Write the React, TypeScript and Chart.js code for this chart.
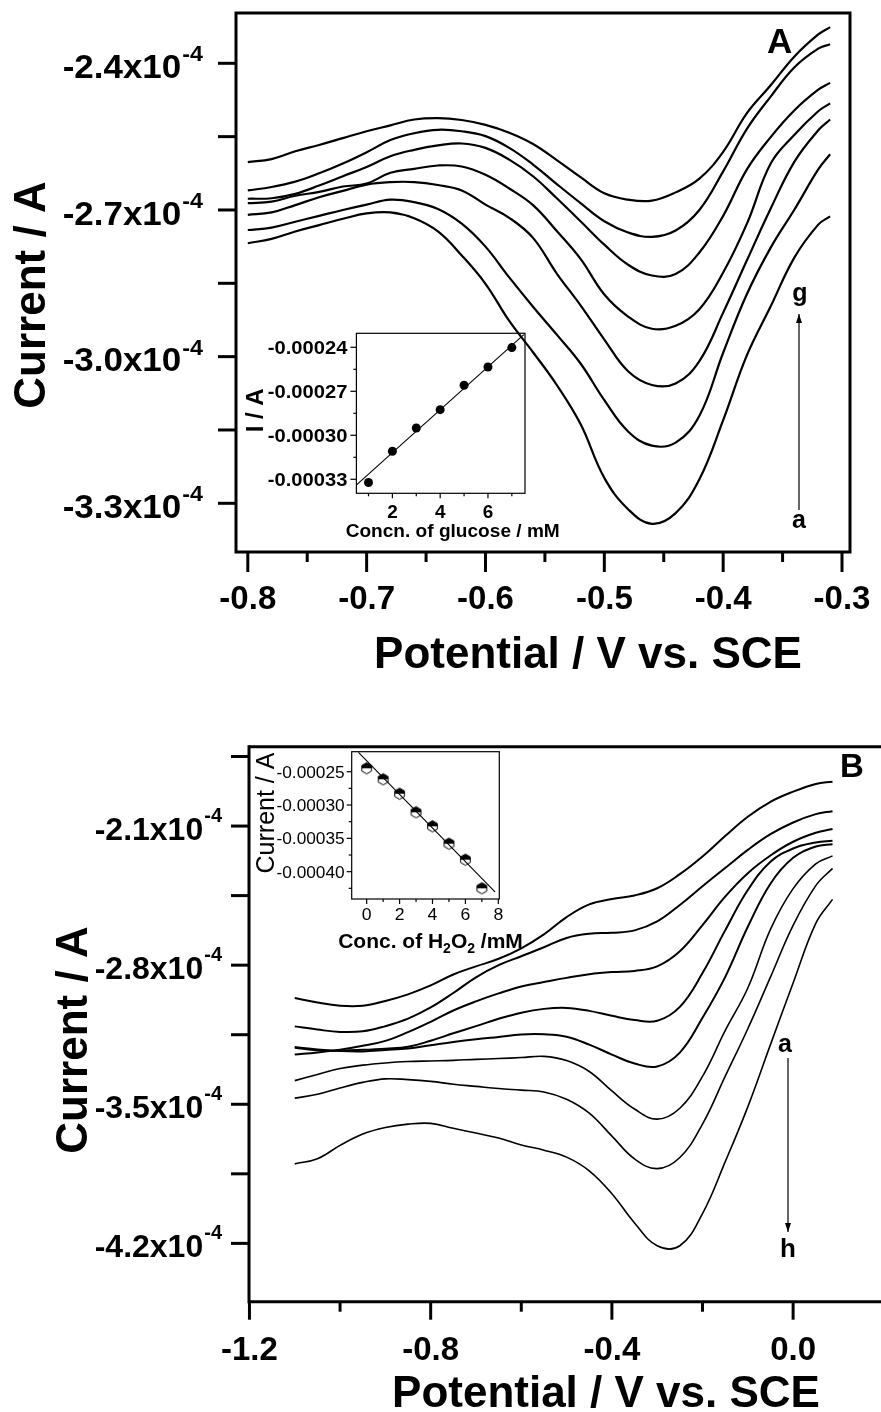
import React, { useEffect, useRef } from "react";
import { Chart, registerables } from "chart.js";

Chart.register(...registerables);

const FONT = '"Liberation Sans", Arial, Helvetica, sans-serif';

// ================= Panel A (glucose) — current in units of 1e-4 A =================
const potentialA = [-0.80, -0.78, -0.76, -0.74, -0.72, -0.70, -0.68, -0.66, -0.64, -0.62, -0.60, -0.58, -0.56,
  -0.54, -0.52, -0.50, -0.48, -0.46, -0.44, -0.42, -0.40, -0.38, -0.36, -0.34, -0.32, -0.31];
const curveA_a = [-2.768, -2.759, -2.744, -2.731, -2.718, -2.707, -2.705, -2.717, -2.744, -2.793, -2.851, -2.927, -2.991,
  -3.058, -3.138, -3.248, -3.312, -3.342, -3.320, -3.251, -3.130, -2.997, -2.897, -2.797, -2.730, -2.713];
const curveA_b = [-2.741, -2.736, -2.724, -2.712, -2.700, -2.689, -2.679, -2.684, -2.698, -2.728, -2.775, -2.838, -2.898,
  -2.955, -3.014, -3.089, -3.153, -3.182, -3.176, -3.121, -2.992, -2.872, -2.777, -2.699, -2.617, -2.586];
const curveA_c = [-2.710, -2.705, -2.690, -2.674, -2.661, -2.648, -2.643, -2.643, -2.649, -2.660, -2.689, -2.716, -2.757,
  -2.830, -2.895, -2.965, -3.030, -3.058, -3.055, -3.009, -2.910, -2.803, -2.697, -2.601, -2.537, -2.515];
const curveA_d = [-2.686, -2.683, -2.671, -2.663, -2.652, -2.646, -2.624, -2.616, -2.609, -2.611, -2.628, -2.656, -2.690,
  -2.743, -2.800, -2.873, -2.918, -2.943, -2.937, -2.903, -2.828, -2.728, -2.605, -2.546, -2.498, -2.482];
const curveA_e = [-2.677, -2.676, -2.667, -2.650, -2.631, -2.612, -2.590, -2.577, -2.568, -2.564, -2.573, -2.597, -2.631,
  -2.676, -2.723, -2.771, -2.812, -2.834, -2.831, -2.787, -2.712, -2.617, -2.551, -2.496, -2.454, -2.440];
const curveA_f = [-2.660, -2.653, -2.642, -2.625, -2.605, -2.582, -2.557, -2.543, -2.536, -2.539, -2.549, -2.573, -2.607,
  -2.647, -2.686, -2.723, -2.746, -2.755, -2.742, -2.700, -2.621, -2.534, -2.468, -2.408, -2.370, -2.361];
const curveA_g = [-2.602, -2.596, -2.580, -2.567, -2.553, -2.539, -2.527, -2.515, -2.512, -2.516, -2.526, -2.542, -2.565,
  -2.598, -2.633, -2.666, -2.679, -2.681, -2.664, -2.636, -2.581, -2.502, -2.445, -2.386, -2.341, -2.326];
const seriesA = [curveA_a, curveA_b, curveA_c, curveA_d, curveA_e, curveA_f, curveA_g];

const yMajorA = [-2.4, -2.7, -3.0, -3.3];
const yLabelA = ["-2.4x10", "-2.7x10", "-3.0x10", "-3.3x10"];
const yMinorA = [-2.55, -2.85, -3.15];
const xMajorA = [-0.8, -0.7, -0.6, -0.5, -0.4, -0.3];
const xLabelA = ["-0.8", "-0.7", "-0.6", "-0.5", "-0.4", "-0.3"];
const xMinorA = [-0.75, -0.65, -0.55, -0.45, -0.35];
const EXPONENT = "-4";

// Inset A
const glucoseConc = [1, 2, 3, 4, 5, 6, 7];
const glucoseCurrent = [-0.0003322, -0.0003109, -0.000295, -0.0002825, -0.0002659, -0.0002534, -0.0002402];
const glucoseFitX = [0.5, 7.5];
const glucoseFitY = [-0.0003338, -0.0002314];
const insetA_yMajor = [-0.00024, -0.00027, -0.0003, -0.00033];
const insetA_yLabel = ["-0.00024", "-0.00027", "-0.00030", "-0.00033"];
const insetA_yMinor = [-0.000255, -0.000285, -0.000315];
const insetA_xMajor = [2, 4, 6];
const insetA_xLabel = ["2", "4", "6"];
const insetA_xMinor = [1, 3, 5, 7];

// ================= Panel B (H2O2) — current in units of 1e-4 A =================
const potentialB = [-1.10, -1.05, -1.00, -0.95, -0.90, -0.85, -0.80, -0.75, -0.70, -0.65, -0.60, -0.55, -0.50,
  -0.45, -0.40, -0.35, -0.30, -0.25, -0.20, -0.15, -0.10, -0.05, 0.00, 0.05, 0.087];
const curveB_a = [-2.965, -2.988, -3.004, -3.004, -2.980, -2.947, -2.902, -2.847, -2.806, -2.768, -2.715, -2.645, -2.558,
  -2.494, -2.467, -2.449, -2.413, -2.342, -2.253, -2.150, -2.053, -1.978, -1.927, -1.888, -1.877];
const curveB_b = [-3.108, -3.124, -3.136, -3.133, -3.107, -3.069, -3.013, -2.940, -2.861, -2.800, -2.755, -2.710, -2.663,
  -2.642, -2.637, -2.625, -2.580, -2.497, -2.403, -2.311, -2.220, -2.141, -2.082, -2.040, -2.025];
const curveB_c = [-3.249, -3.239, -3.225, -3.206, -3.181, -3.137, -3.085, -3.028, -2.982, -2.942, -2.907, -2.885, -2.864,
  -2.846, -2.835, -2.829, -2.806, -2.730, -2.598, -2.455, -2.337, -2.248, -2.179, -2.134, -2.115];
const curveB_d = [-3.216, -3.228, -3.230, -3.226, -3.220, -3.211, -3.180, -3.143, -3.107, -3.070, -3.039, -3.020, -3.015,
  -3.030, -3.055, -3.076, -3.080, -3.010, -2.840, -2.625, -2.422, -2.280, -2.213, -2.183, -2.174];
const curveB_e = [-3.212, -3.224, -3.232, -3.234, -3.227, -3.219, -3.203, -3.187, -3.173, -3.161, -3.149, -3.148, -3.160,
  -3.200, -3.250, -3.295, -3.310, -3.240, -3.065, -2.860, -2.607, -2.390, -2.260, -2.203, -2.191];
const curveB_f = [-3.381, -3.350, -3.320, -3.303, -3.292, -3.285, -3.282, -3.279, -3.274, -3.270, -3.265, -3.259, -3.280,
  -3.335, -3.433, -3.524, -3.575, -3.520, -3.360, -3.130, -2.915, -2.620, -2.415, -2.290, -2.250];
const curveB_g = [-3.469, -3.450, -3.418, -3.390, -3.372, -3.376, -3.385, -3.399, -3.410, -3.421, -3.429, -3.438, -3.475,
  -3.545, -3.660, -3.775, -3.824, -3.768, -3.600, -3.360, -3.120, -2.860, -2.600, -2.400, -2.313];
const curveB_h = [-3.800, -3.774, -3.707, -3.650, -3.617, -3.600, -3.596, -3.621, -3.645, -3.670, -3.705, -3.731, -3.766,
  -3.835, -3.950, -4.097, -4.212, -4.212, -4.050, -3.790, -3.513, -3.200, -2.890, -2.590, -2.469];
const seriesB = [curveB_a, curveB_b, curveB_c, curveB_d, curveB_e, curveB_f, curveB_g, curveB_h];

const yMajorB = [-2.1, -2.8, -3.5, -4.2];
const yLabelB = ["-2.1x10", "-2.8x10", "-3.5x10", "-4.2x10"];
const yMinorB = [-1.75, -2.45, -3.15, -3.85];
const xMajorB = [-1.2, -0.8, -0.4, 0.0];
const xLabelB = ["-1.2", "-0.8", "-0.4", "0.0"];
const xMinorB = [-1.0, -0.6, -0.2];

// Inset B
const h2o2Conc = [0, 1, 2, 3, 4, 5, 6, 7];
const h2o2Current = [-0.0002449, -0.0002614, -0.000283, -0.0003109, -0.0003319, -0.000358, -0.000382, -0.0004249];
const h2o2FitX = [-0.5, 7.8];
const h2o2FitY = [-0.000221, -0.0004302];
const insetB_yMajor = [-0.00025, -0.0003, -0.00035, -0.0004];
const insetB_yLabel = ["-0.00025", "-0.00030", "-0.00035", "-0.00040"];
const insetB_yMinor = [-0.000275, -0.000325, -0.000375, -0.000425];
const insetB_xMajor = [0, 2, 4, 6, 8];
const insetB_xLabel = ["0", "2", "4", "6", "8"];
const insetB_xMinor = [1, 3, 5, 7];

// ================= drawing helpers =================
type TOpts = { bold?: boolean; align?: CanvasTextAlign; sx?: number; rotate?: boolean };
function text(ctx: CanvasRenderingContext2D, s: string, x: number, y: number, size: number, o: TOpts = {}) {
  ctx.save();
  ctx.font = `${o.bold ? "bold " : ""}${size}px ${FONT}`;
  ctx.textAlign = o.align || "left";
  ctx.textBaseline = "alphabetic";
  ctx.fillStyle = "#000";
  ctx.translate(x, y);
  if (o.rotate) ctx.rotate(-Math.PI / 2);
  ctx.scale(o.sx || 1, 1);
  ctx.fillText(s, 0, 0);
  ctx.restore();
}
function measure(ctx: CanvasRenderingContext2D, s: string, size: number, bold: boolean) {
  ctx.save();
  ctx.font = `${bold ? "bold " : ""}${size}px ${FONT}`;
  const w = ctx.measureText(s).width;
  ctx.restore();
  return w;
}
function seg(ctx: CanvasRenderingContext2D, x1: number, y1: number, x2: number, y2: number) {
  ctx.beginPath();
  ctx.moveTo(x1, y1);
  ctx.lineTo(x2, y2);
  ctx.stroke();
}
function supLabel(ctx: CanvasRenderingContext2D, base: string, exp: string, right: number, mid: number,
  size: number, supSize: number, sx: number) {
  const w1 = measure(ctx, base, size, true) * sx;
  const w2 = measure(ctx, exp, supSize, true) * sx;
  const x0 = right - w1 - w2 - 1;
  const cap = size * 0.716;
  const by = mid + cap / 2;
  text(ctx, base, x0, by, size, { bold: true, sx });
  text(ctx, exp, x0 + w1 + 1, by - cap - 9 + supSize * 0.716, supSize, { bold: true, sx });
}
function arrow(ctx: CanvasRenderingContext2D, x: number, y1: number, y2: number) {
  ctx.save();
  ctx.lineWidth = 1.2;
  ctx.strokeStyle = "#000";
  ctx.fillStyle = "#000";
  seg(ctx, x, y1, x, y2);
  const dir = y2 < y1 ? -1 : 1;
  ctx.beginPath();
  ctx.moveTo(x, y2);
  ctx.lineTo(x - 3, y2 - dir * 9);
  ctx.lineTo(x + 3, y2 - dir * 9);
  ctx.closePath();
  ctx.fill();
  ctx.restore();
}

function halfHexagon(): HTMLCanvasElement {
  const c = document.createElement("canvas");
  c.width = 13;
  c.height = 14;
  const g = c.getContext("2d")!;
  const cx = 6.5, cy = 7, r = 5.6;
  const path = () => {
    g.beginPath();
    for (let k = 0; k < 6; k++) {
      const a = -Math.PI / 2 + (k * Math.PI) / 3;
      const px = cx + r * Math.cos(a), py = cy + r * Math.sin(a);
      if (k === 0) g.moveTo(px, py); else g.lineTo(px, py);
    }
    g.closePath();
  };
  path();
  g.fillStyle = "#fff";
  g.fill();
  g.save();
  g.beginPath();
  g.rect(0, 0, 13, cy);
  g.clip();
  path();
  g.fillStyle = "#000";
  g.fill();
  g.restore();
  path();
  g.strokeStyle = "#000";
  g.lineWidth = 1;
  g.stroke();
  return c;
}

// ================= plugins =================
const decorA = {
  id: "decorA",
  afterDraw(chart: any) {
    const { ctx, chartArea: ca } = chart;
    const xs = chart.scales.x, ys = chart.scales.y;
    ctx.save();
    ctx.strokeStyle = "#000";
    ctx.lineWidth = 3;
    ctx.strokeRect(ca.left, ca.top, ca.right - ca.left, ca.bottom - ca.top);
    [...yMajorA, ...yMinorA].forEach((v) => {
      const p = ys.getPixelForValue(v);
      seg(ctx, ca.left - 18, p, ca.left, p);
    });
    xMajorA.forEach((v) => {
      const p = xs.getPixelForValue(v);
      seg(ctx, p, ca.bottom, p, ca.bottom + 20);
    });
    xMinorA.forEach((v) => {
      const p = xs.getPixelForValue(v);
      seg(ctx, p, ca.bottom, p, ca.bottom + 10);
    });
    yMajorA.forEach((v, i) => supLabel(ctx, yLabelA[i], EXPONENT, ca.left - 33, ys.getPixelForValue(v) + 3, 33, 22, 1.06));
    xMajorA.forEach((v, i) => text(ctx, xLabelA[i], xs.getPixelForValue(v), ca.bottom + 57, 33, { bold: true, align: "center" }));
    text(ctx, "Potential / V vs. SCE", 588, 668, 44, { bold: true, align: "center" });
    text(ctx, "Current / A", 45, 295, 44, { bold: true, align: "center", rotate: true });
    text(ctx, "A", 767, 53, 35, { bold: true });
    text(ctx, "g", 800, 301, 25, { bold: true, align: "center" });
    text(ctx, "a", 799, 528, 25, { bold: true, align: "center" });
    arrow(ctx, 799, 510, 314);
    ctx.restore();
  },
};

const decorB = {
  id: "decorB",
  afterDraw(chart: any) {
    const { ctx, chartArea: ca } = chart;
    const xs = chart.scales.x, ys = chart.scales.y;
    const oy = 700;
    ctx.save();
    ctx.strokeStyle = "#000";
    ctx.lineWidth = 3;
    seg(ctx, ca.left, ca.top, chart.width, ca.top);
    seg(ctx, ca.left, ca.bottom, chart.width, ca.bottom);
    seg(ctx, ca.left, ca.top - 1.5, ca.left, ca.bottom + 1.5);
    [...yMajorB, ...yMinorB].forEach((v) => {
      const p = ys.getPixelForValue(v);
      seg(ctx, ca.left - 18, p, ca.left, p);
    });
    xMajorB.forEach((v) => {
      const p = xs.getPixelForValue(v);
      seg(ctx, p, ca.bottom, p, ca.bottom + 18);
    });
    xMinorB.forEach((v) => {
      const p = xs.getPixelForValue(v);
      seg(ctx, p, ca.bottom, p, ca.bottom + 10);
    });
    yMajorB.forEach((v, i) => supLabel(ctx, yLabelB[i], EXPONENT, ca.left - 27, ys.getPixelForValue(v) + 2, 32, 20, 1.0));
    xMajorB.forEach((v, i) => text(ctx, xLabelB[i], xs.getPixelForValue(v), ca.bottom + 58, 33, { bold: true, align: "center" }));
    text(ctx, "Potential / V vs. SCE", 606, 1407 - oy, 44, { bold: true, align: "center" });
    text(ctx, "Current / A", 87, 1040 - oy, 44, { bold: true, align: "center", rotate: true });
    text(ctx, "B", 840, 777 - oy, 33, { bold: true });
    text(ctx, "a", 785, 1052 - oy, 25, { bold: true, align: "center" });
    text(ctx, "h", 788, 1257 - oy, 26, { bold: true, align: "center" });
    arrow(ctx, 788, 1058 - oy, 1232 - oy);
    ctx.restore();
  },
};

const decorInsetA = {
  id: "decorInsetA",
  afterDraw(chart: any) {
    const { ctx, chartArea: ca } = chart;
    const xs = chart.scales.x, ys = chart.scales.y;
    ctx.save();
    ctx.strokeStyle = "#000";
    ctx.lineWidth = 1.2;
    ctx.strokeRect(ca.left, ca.top, ca.right - ca.left, ca.bottom - ca.top);
    insetA_yMajor.forEach((v) => { const p = ys.getPixelForValue(v); seg(ctx, ca.left - 6, p, ca.left, p); });
    insetA_yMinor.forEach((v) => { const p = ys.getPixelForValue(v); seg(ctx, ca.left - 3, p, ca.left, p); });
    insetA_xMajor.forEach((v) => { const p = xs.getPixelForValue(v); seg(ctx, p, ca.bottom, p, ca.bottom + 5); });
    insetA_xMinor.forEach((v) => { const p = xs.getPixelForValue(v); seg(ctx, p, ca.bottom, p, ca.bottom + 3); });
    insetA_yMajor.forEach((v, i) =>
      text(ctx, insetA_yLabel[i], ca.left - 9, ys.getPixelForValue(v) + 6.5, 18, { bold: true, align: "right", sx: 1.12 }));
    insetA_xMajor.forEach((v, i) =>
      text(ctx, insetA_xLabel[i], xs.getPixelForValue(v), ca.bottom + 25, 18, { bold: true, align: "center", sx: 1.05 }));
    text(ctx, "I / A", ca.left - 93, (ca.top + ca.bottom) / 2 - 3, 24, { bold: true, align: "center", rotate: true });
    text(ctx, "Concn. of glucose / mM", (ca.left + ca.right) / 2 + 12, ca.bottom + 44, 18, { bold: true, align: "center", sx: 1.06 });
    ctx.restore();
  },
};

const decorInsetB = {
  id: "decorInsetB",
  afterDraw(chart: any) {
    const { ctx, chartArea: ca } = chart;
    const xs = chart.scales.x, ys = chart.scales.y;
    ctx.save();
    ctx.strokeStyle = "#000";
    ctx.lineWidth = 1.2;
    ctx.strokeRect(ca.left, ca.top, ca.right - ca.left, ca.bottom - ca.top);
    insetB_yMajor.forEach((v) => { const p = ys.getPixelForValue(v); seg(ctx, ca.left - 5, p, ca.left, p); });
    insetB_yMinor.forEach((v) => { const p = ys.getPixelForValue(v); seg(ctx, ca.left - 3, p, ca.left, p); });
    insetB_xMajor.forEach((v) => { const p = xs.getPixelForValue(v); seg(ctx, p, ca.bottom, p, ca.bottom + 5); });
    insetB_xMinor.forEach((v) => { const p = xs.getPixelForValue(v); seg(ctx, p, ca.bottom, p, ca.bottom + 3); });
    insetB_yMajor.forEach((v, i) =>
      text(ctx, insetB_yLabel[i], ca.left - 7, ys.getPixelForValue(v) + 6, 16, { align: "right", sx: 1.08 }));
    insetB_xMajor.forEach((v, i) =>
      text(ctx, insetB_xLabel[i], xs.getPixelForValue(v), ca.bottom + 21, 16, { align: "center", sx: 1.1 }));
    text(ctx, "Current / A", ca.left - 78, 73, 25, { align: "center", rotate: true });
    // "Conc. of H2O2 /mM" with subscripts
    const big = 21, small = 14;
    const parts: [string, boolean][] = [["Conc. of H", false], ["2", true], ["O", false], ["2", true], [" /mM", false]];
    const widths = parts.map(([s, sub]) => measure(ctx, s, sub ? small : big, true));
    const total = widths.reduce((a, b) => a + b, 0);
    let x = (ca.left + ca.right) / 2 + 5 - total / 2;
    const by = ca.bottom + 49;
    parts.forEach(([s, sub], i) => {
      text(ctx, s, x, sub ? by + 5 : by, sub ? small : big, { bold: true });
      x += widths[i];
    });
    ctx.restore();
  },
};

function baseOptions(xmin: number, xmax: number, ymin: number, ymax: number, pad: any) {
  return {
    responsive: false,
    animation: false as const,
    devicePixelRatio: 1,
    events: [] as any[],
    layout: { padding: pad },
    plugins: { legend: { display: false }, tooltip: { enabled: false }, title: { display: false } },
    scales: {
      x: { type: "linear" as const, display: false, min: xmin, max: xmax },
      y: { type: "linear" as const, display: false, min: ymin, max: ymax },
    },
  };
}

export default function App() {
  const refA = useRef<HTMLCanvasElement>(null);
  const refB = useRef<HTMLCanvasElement>(null);
  const refIA = useRef<HTMLCanvasElement>(null);
  const refIB = useRef<HTMLCanvasElement>(null);

  useEffect(() => {
    const charts: Chart[] = [];

    charts.push(
      new Chart(refA.current!, {
        type: "line",
        data: {
          datasets: seriesA.map((s) => ({
            data: potentialA.map((x, i) => ({ x, y: s[i] })),
            borderColor: "#000",
            borderWidth: 2.2,
            pointRadius: 0,
            tension: 0.4,
            fill: false,
          })),
        },
        options: baseOptions(-0.80993, -0.29327, -3.3996, -2.2971, { left: 236, right: 31, top: 13, bottom: 148 }) as any,
        plugins: [decorA],
      })
    );

    charts.push(
      new Chart(refB.current!, {
        type: "line",
        data: {
          datasets: seriesB.map((s, k) => ({
            data: potentialB.map((x, i) => ({ x, y: s[i] })),
            borderColor: "#000",
            borderWidth: k < 5 ? 2 : 1.6,
            pointRadius: 0,
            tension: 0.4,
            fill: false,
          })),
        },
        options: baseOptions(-1.201, 0.194, -4.4935, -1.7007, { left: 249, right: 0, top: 46.7, bottom: 110.3 }) as any,
        plugins: [decorB],
      })
    );

    charts.push(
      new Chart(refIA.current!, {
        type: "scatter",
        data: {
          datasets: [
            {
              data: glucoseFitX.map((x, i) => ({ x, y: glucoseFitY[i] })),
              showLine: true,
              borderColor: "#000",
              borderWidth: 1.1,
              pointRadius: 0,
            },
            {
              data: glucoseConc.map((x, i) => ({ x, y: glucoseCurrent[i] })),
              showLine: false,
              pointRadius: 4.5,
              pointBackgroundColor: "#000",
              pointBorderColor: "#000",
              pointBorderWidth: 0,
            },
          ],
        },
        options: baseOptions(0.494, 7.55, -0.00033955, -0.00023045, { left: 126.4, right: 45, top: 13.3, bottom: 56.7 }) as any,
        plugins: [decorInsetA],
      })
    );

    const hex = halfHexagon();
    charts.push(
      new Chart(refIB.current!, {
        type: "scatter",
        data: {
          datasets: [
            {
              data: h2o2FitX.map((x, i) => ({ x, y: h2o2FitY[i] })),
              showLine: true,
              borderColor: "#000",
              borderWidth: 1.1,
              pointRadius: 0,
            },
            {
              data: h2o2Conc.map((x, i) => ({ x, y: h2o2Current[i] })),
              showLine: false,
              pointStyle: hex,
              pointRadius: 6,
            },
          ],
        },
        options: baseOptions(-0.91, 8.06, -0.000441, -0.00022, { left: 111.7, right: 40.7, top: 11.7, bottom: 61 }) as any,
        plugins: [decorInsetB],
      })
    );

    return () => charts.forEach((c) => c.destroy());
  }, []);

  return (
    <div style={{ position: "absolute", left: 0, top: 0, width: 881, height: 1412, background: "#fff", overflow: "hidden" }}>
      <canvas ref={refA} width={881} height={700} style={{ position: "absolute", left: 0, top: 0, width: 881, height: 700 }} />
      <canvas ref={refB} width={881} height={712} style={{ position: "absolute", left: 0, top: 700, width: 881, height: 712 }} />
      <canvas ref={refIA} width={340} height={230} style={{ position: "absolute", left: 230, top: 320, width: 340, height: 230 }} />
      <canvas ref={refIB} width={300} height={220} style={{ position: "absolute", left: 240, top: 740, width: 300, height: 220 }} />
    </div>
  );
}
